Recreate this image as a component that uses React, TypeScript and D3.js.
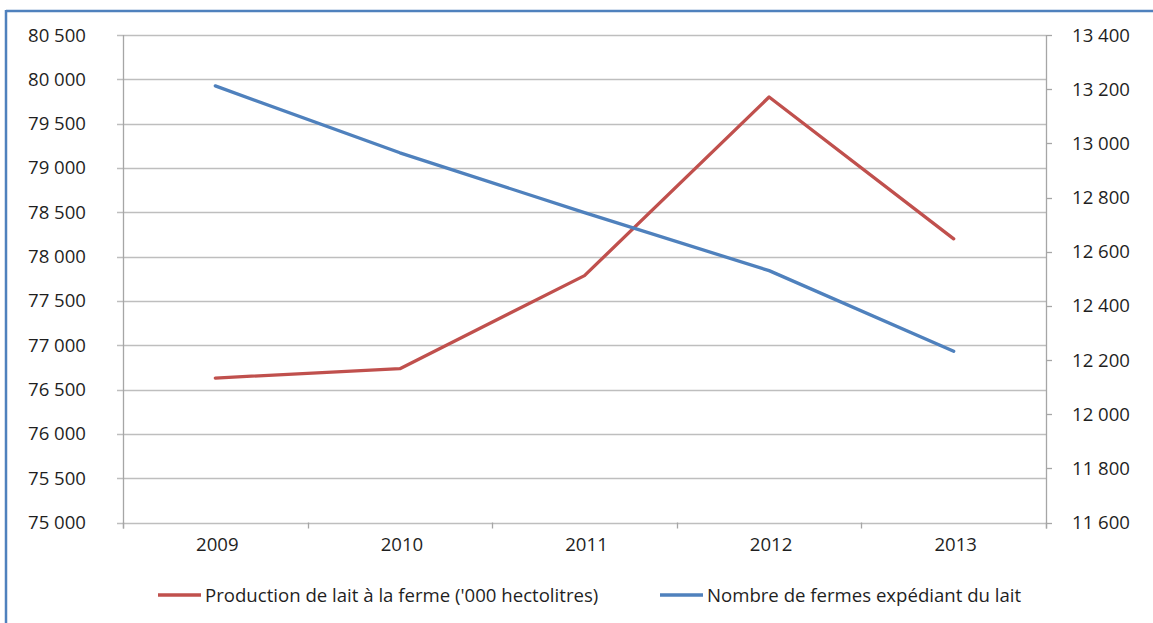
import { useEffect, useRef } from "react";
import * as d3 from "d3";

const years = ["2009", "2010", "2011", "2012", "2013"];
const production = [76630, 76735, 77785, 79800, 78200];
const farms = [13212, 12965, 12744, 12530, 12232];
const leftTicks = [75000, 75500, 76000, 76500, 77000, 77500, 78000, 78500, 79000, 79500, 80000, 80500];
const rightTicks = [11600, 11800, 12000, 12200, 12400, 12600, 12800, 13000, 13200, 13400];
const seriesNames = ["Production de lait à la ferme ('000 hectolitres)", "Nombre de fermes expédiant du lait"];

const W = 1153;
const H = 623;
const RED = "#C0504D";
const BLUE = "#4F81BD";
const FONT = "'Open Sans', 'Noto Sans', sans-serif";
const FS = 18.6;
const INK = "#1f1f1f";

function fmt(v: number) {
  const s = String(v);
  return s.slice(0, s.length - 3) + " " + s.slice(-3);
}

function App() {
  const ref = useRef<SVGSVGElement>(null);

  useEffect(() => {
    const svg = d3.select(ref.current);
    svg.selectAll("*").remove();

    const margin = { top: 35, right: 107, bottom: 100, left: 123 };
    const width = W - margin.left - margin.right;
    const height = H - margin.top - margin.bottom - 0.5;

    // outer frame (only left and top visible)
    svg.append("line").attr("x1", 6).attr("x2", W).attr("y1", 11).attr("y2", 11)
      .attr("stroke", BLUE).attr("stroke-width", 2.5);
    svg.append("line").attr("x1", 6).attr("x2", 6).attr("y1", 10).attr("y2", H)
      .attr("stroke", BLUE).attr("stroke-width", 2.5);

    const g = svg.append("g").attr("transform", `translate(${margin.left}, ${margin.top})`);

    const x = d3.scaleBand().domain(years).range([0, width]);
    const yL = d3.scaleLinear().domain([75000, 80500]).range([height, 0]);
    const yR = d3.scaleLinear().domain([11600, 13400]).range([height, 0]);

    // gridlines
    g.append("g").selectAll("line").data(leftTicks).join("line")
      .attr("x1", -6).attr("x2", width)
      .attr("y1", (d) => Math.round(yL(d)) + 0.5).attr("y2", (d) => Math.round(yL(d)) + 0.5)
      .attr("stroke", "#BEBEBE").attr("stroke-width", 1.3);

    // left axis
    g.append("line").attr("x1", 0.5).attr("x2", 0.5).attr("y1", 0).attr("y2", height + 6)
      .attr("stroke", "#A6A6A6").attr("stroke-width", 1.3);
    g.append("g").selectAll("text").data(leftTicks).join("text")
      .attr("x", -37).attr("y", (d) => yL(d)).attr("dy", "0.35em")
      .attr("text-anchor", "end").attr("font-family", FONT).attr("font-size", FS)
      .attr("fill", INK).text((d) => fmt(d));

    // right axis
    g.append("line").attr("x1", width + 0.5).attr("x2", width + 0.5).attr("y1", 0).attr("y2", height + 6)
      .attr("stroke", "#A6A6A6").attr("stroke-width", 1.3);
    g.append("g").selectAll("line").data(rightTicks).join("line")
      .attr("x1", width).attr("x2", width + 6)
      .attr("y1", (d) => Math.round(yR(d)) + 0.5).attr("y2", (d) => Math.round(yR(d)) + 0.5)
      .attr("stroke", "#A6A6A6").attr("stroke-width", 1.3);
    g.append("g").selectAll("text").data(rightTicks).join("text")
      .attr("x", width + 26).attr("y", (d) => yR(d)).attr("dy", "0.35em")
      .attr("text-anchor", "start").attr("font-family", FONT).attr("font-size", FS)
      .attr("fill", INK).text((d) => fmt(d));

    // x axis ticks + labels
    const bounds = years.map((y) => x(y) as number).concat([width]);
    g.append("g").selectAll("line").data(bounds).join("line")
      .attr("x1", (d) => Math.round(d) + 0.5).attr("x2", (d) => Math.round(d) + 0.5)
      .attr("y1", height).attr("y2", height + 6)
      .attr("stroke", "#A6A6A6").attr("stroke-width", 1.3);
    g.append("g").selectAll("text").data(years).join("text")
      .attr("x", (d) => (x(d) as number) + x.bandwidth() / 2 + 2).attr("y", height + 28)
      .attr("text-anchor", "middle").attr("font-family", FONT).attr("font-size", FS)
      .attr("fill", INK).text((d) => d);

    const cx = (i: number) => (x(years[i]) as number) + x.bandwidth() / 2;

    const lineL = d3.line<number>().x((_, i) => cx(i)).y((d) => yL(d));
    const lineR = d3.line<number>().x((_, i) => cx(i)).y((d) => yR(d));

    g.append("path").datum(production).attr("d", lineL).attr("fill", "none")
      .attr("stroke", RED).attr("stroke-width", 3.3).attr("stroke-linejoin", "round").attr("stroke-linecap", "round");
    g.append("path").datum(farms).attr("d", lineR).attr("fill", "none")
      .attr("stroke", BLUE).attr("stroke-width", 3.3).attr("stroke-linejoin", "round").attr("stroke-linecap", "round");

    // legend
    const legend = [
      { name: seriesNames[0], color: RED, x: 158 },
      { name: seriesNames[1], color: BLUE, x: 660 },
    ];
    const lg = svg.append("g").selectAll("g").data(legend).join("g")
      .attr("transform", (d) => `translate(${d.x}, 595)`);
    lg.append("line").attr("x1", 0).attr("x2", 43).attr("y1", 0).attr("y2", 0)
      .attr("stroke", (d) => d.color).attr("stroke-width", 3.5);
    lg.append("text").attr("x", 47).attr("y", 0).attr("dy", "0.35em")
      .attr("font-family", FONT).attr("font-size", FS).attr("fill", INK)
      .text((d) => d.name);
  }, []);

  return (
    <svg
      ref={ref}
      width={W}
      height={H}
      style={{ position: "absolute", left: 0, top: 0, background: "#fff" }}
    />
  );
}

export default App;
